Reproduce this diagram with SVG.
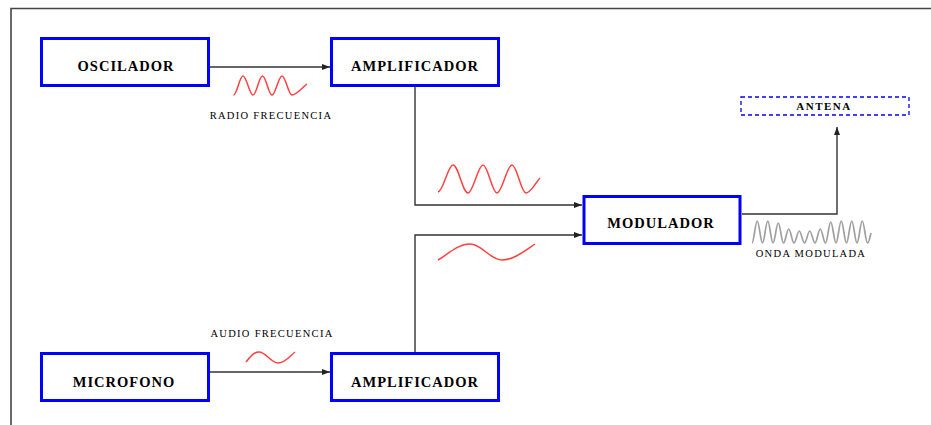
<svg xmlns="http://www.w3.org/2000/svg" width="931" height="425" viewBox="0 0 931 425">
<defs>
<style>
.box{fill:#fff;stroke:#0000ff;stroke-width:3}
.ant{fill:#fff;stroke:#0000ff;stroke-width:1.3;stroke-dasharray:4 3}
.lbl{font-family:"Liberation Serif","Times New Roman",serif;font-weight:bold;font-size:14.5px;letter-spacing:1px;fill:#000;text-anchor:middle}
.small{font-family:"Liberation Serif","Times New Roman",serif;font-size:10.5px;letter-spacing:1.3px;fill:#000;text-anchor:middle}
.conn{fill:none;stroke:#333;stroke-width:1.4}
.rf{fill:none;stroke:#ff4040;stroke-width:1.5}
.mod{fill:none;stroke:#a0a0a0;stroke-width:1.7}
</style>
<marker id="ah" markerWidth="8" markerHeight="6" refX="8" refY="3" orient="auto" markerUnits="userSpaceOnUse">
<path d="M0,0 L8,3 L0,6 z" fill="#222"/>
</marker>
</defs>
<rect width="931" height="425" fill="#fff"/>
<path d="M11,425 V8.5 H931" fill="none" stroke="#444" stroke-width="1.6"/>

<g id="connectors">
<path class="conn" d="M210,67 H330" marker-end="url(#ah)"/>
<path class="conn" d="M415,87 V205 H582" marker-end="url(#ah)"/>
<path class="conn" d="M210,372 H330" marker-end="url(#ah)"/>
<path class="conn" d="M415,352 V235 H582" marker-end="url(#ah)"/>
<path class="conn" d="M742,214 H837 V127" marker-end="url(#ah)"/>
</g>

<g id="oscilador">
<rect class="box" x="41.5" y="38.5" width="167" height="47"/>
<text class="lbl" x="126" y="71">OSCILADOR</text>
</g>
<g id="amplificador1">
<rect class="box" x="331.5" y="38.5" width="167" height="47"/>
<text class="lbl" x="415" y="71">AMPLIFICADOR</text>
</g>
<g id="microfono">
<rect class="box" x="41.5" y="353.5" width="167" height="47"/>
<text class="lbl" x="124" y="387">MICROFONO</text>
</g>
<g id="amplificador2">
<rect class="box" x="331.5" y="353.5" width="167" height="47"/>
<text class="lbl" x="415" y="387">AMPLIFICADOR</text>
</g>
<g id="modulador">
<rect class="box" x="584" y="196.5" width="156" height="47"/>
<text class="lbl" x="661" y="228">MODULADOR</text>
</g>
<g id="antena">
<rect class="ant" x="741" y="97" width="168" height="18"/>
<text class="lbl" x="824" y="110" style="font-size:11px;letter-spacing:1.5px">ANTENA</text>
</g>

<g id="waves">
<path class="rf" d="M233.5,95 C237,95 239.5,76 243,76 C246.6,76 249.4,95 253,95 C256.5,95 259,76 262.5,76 C266,76 268.5,95 272,95 C275.6,95 278.4,76 282,76 C285.6,76 288.4,95 292,95 C296,95 302,88 307,84"/>
<path class="rf" d="M438,192 C443,192 448,165 453,165 C458.5,165 462.5,193 468,193 C473,193 478,165 483,165 C488,165 492,193 497,193 C502,193 507,165 512,165 C517,165 521,193 526,193 C531,193 536,182 540,178"/>
<path class="rf" d="M438,260 C448,254 458,244 470,244 C482,244 490,260 502,260 C514,260 526,250 535,244"/>
<path class="rf" d="M246,362 C251,356 254,352 259,352 C266,352 271,363 278,363 C285,363 290,356 295,352"/>
<path class="mod" d="M752,243 C753.9,243 755.35,221 757.25,221 C759.15,221 760.6,243 762.5,243 C764.4,243 765.85,221 767.75,221 C769.65,221 771.1,243 773,243 C774.9,243 776.35,223 778.25,223 C780.15,223 781.6,243 783.5,243 C785.4,243 786.85,229 788.75,229 C790.65,229 792.1,243 794,243 C795.9,243 797.35,231 799.25,231 C801.15,231 802.6,243 804.5,243 C806.4,243 807.85,231 809.75,231 C811.65,231 813.1,243 815,243 C816.9,243 818.35,229 820.25,229 C822.15,229 823.6,243 825.5,243 C827.4,243 828.85,222 830.75,222 C832.65,222 834.1,243 836,243 C837.9,243 839.35,221 841.25,221 C843.15,221 844.6,243 846.5,243 C848.4,243 849.85,221 851.75,221 C853.65,221 855.1,243 857,243 C858.9,243 860.35,221 862.25,221 C864.15,221 865.6,243 867.5,243 C869,243 870,237 871,233"/>
</g>

<g id="labels">
<text class="small" x="271" y="119">RADIO FRECUENCIA</text>
<text class="small" x="272" y="337">AUDIO FRECUENCIA</text>
<text class="small" x="811" y="257">ONDA MODULADA</text>
</g>
</svg>
